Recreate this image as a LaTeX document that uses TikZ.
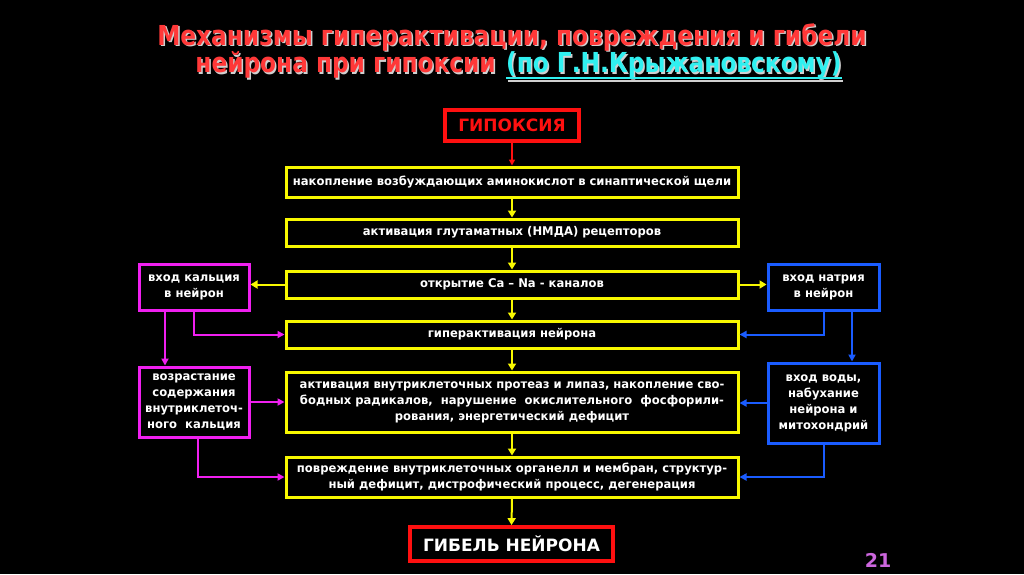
\documentclass[tikz,border=0pt]{standalone}
\usepackage{fontspec}
\setmainfont{DejaVu Sans}
\newfontfamily\titlefont{DejaVu Sans Condensed}[FakeStretch=0.94]
\newfontfamily\boxfont{DejaVu Sans}[FakeStretch=0.965]
\usetikzlibrary{arrows.meta,calc}
\definecolor{ylw}{HTML}{F8F800}
\definecolor{mgn}{HTML}{F020F0}
\definecolor{blu}{HTML}{1A5CFF}
\definecolor{rd}{HTML}{FF1010}
\definecolor{ttlred}{HTML}{FF3838}
\definecolor{ttlcyan}{HTML}{30F0F0}
\definecolor{shd}{HTML}{D0D0D0}
\definecolor{pagenum}{HTML}{CC66DD}
\begin{document}
\begin{tikzpicture}[x=1pt,y=-1pt,
  boxtext/.style={text=white,align=center,inner sep=0pt,font=\boxfont\bfseries\fontsize{12}{16}\selectfont},
  ybox/.style={boxtext,draw=ylw,line width=3pt,minimum width=452pt},
  mbox/.style={boxtext,draw=mgn,line width=3pt,minimum width=110pt},
  bbox/.style={boxtext,draw=blu,line width=3pt,minimum width=111pt},
  rbox/.style={draw=rd,line width=3.8pt,inner sep=0pt,font=\bfseries\fontsize{17}{20}\selectfont},
  yarr/.style={draw=ylw,line width=2pt,-{Triangle[length=7pt,width=8pt]}},
  marr/.style={draw=mgn,line width=2pt,-{Triangle[length=7pt,width=7pt]}},
  barr/.style={draw=blu,line width=2pt,-{Triangle[length=7pt,width=7pt]}},
  rarr/.style={draw=rd,line width=1.6pt,-{Triangle[length=6pt,width=6pt]}},
  ttl/.style={inner sep=0pt,font=\titlefont\bfseries\fontsize{27.5}{30}\selectfont}
]
\fill[black] (0,0) rectangle (1024,574);
\useasboundingbox (0,0) rectangle (1024,574);

% title with shadow
\node[ttl,text=shd,anchor=base] (t1s) at (513.5,46.5) {Механизмы гиперактивации, повреждения и гибели};
\node[ttl,text=ttlred,anchor=base] (t1) at (512,45) {Механизмы гиперактивации, повреждения и гибели};
\node[ttl,text=shd,anchor=base east] (t2as) at (497.5,74) {нейрона при гипоксии};
\node[ttl,text=ttlred,anchor=base east] (t2a) at (496,72.5) {нейрона при гипоксии};
\node[ttl,text=shd,anchor=base west] (t2bs) at (507.5,74) {(по Г.Н.Крыжановскому)};
\node[ttl,text=ttlcyan,anchor=base west] (t2b) at (506,72.5) {(по Г.Н.Крыжановскому)};
\draw[shd,line width=2pt] ([yshift=-7pt]t2bs.base west) -- ([yshift=-7pt]t2bs.base east);
\draw[ttlcyan,line width=2pt] ([yshift=-5.5pt]t2b.base west) -- ([yshift=-5.5pt]t2b.base east);

% central column
\node[rbox,text=rd,minimum width=134pt,minimum height=31pt] (hyp) at (512,125.5) {ГИПОКСИЯ};
\node[ybox,minimum height=30pt] (b1) at (512,182) {накопление возбуждающих аминокислот в синаптической щели};
\node[ybox,minimum height=27pt] (b2) at (512,232.5) {активация глутаматных (НМДА) рецепторов};
\node[ybox,minimum height=27pt] (b3) at (512,284.5) {открытие Ca – Na - каналов};
\node[ybox,minimum height=27pt] (b4) at (512,334.5) {гиперактивация нейрона};
\node[ybox,minimum height=60pt] (b5) at (512,402) {активация внутриклеточных протеаз и липаз, накопление сво-\\бодных радикалов,\ \ нарушение\ \ окислительного\ \ фосфорили-\\рования, энергетический дефицит};
\node[ybox,minimum height=40pt] (b6) at (512,477) {повреждение внутриклеточных органелл и мембран, структур-\\ный дефицит, дистрофический процесс, дегенерация};
\node[rbox,text=white,minimum width=203pt,minimum height=34pt] (death) at (511.5,544) {ГИБЕЛЬ НЕЙРОНА};

% side boxes
\node[mbox,minimum height=46pt] (lk1) at (194,287) {вход кальция\\в нейрон};
\node[mbox,minimum height=70pt] (lk2) at (194,402) {возрастание\\содержания\\внутриклеточ-\\ного\ \ кальция};
\node[bbox,minimum height=46pt] (rk1) at (823.5,287) {вход натрия\\в нейрон};
\node[bbox,minimum height=80pt] (rk2) at (823.5,403) {вход воды,\\набухание\\нейрона и\\митохондрий};

% page number
\node[text=pagenum,font=\bfseries\fontsize{19}{20}\selectfont,inner sep=0pt] (pg) at (878,560) {21};

% central arrows
\draw[rarr] (hyp.south) -- (b1.north);
\draw[yarr] (b1.south) -- (b2.north);
\draw[yarr] (b2.south) -- (b3.north);
\draw[yarr] (b3.south) -- (b4.north);
\draw[yarr] (b4.south) -- (b5.north);
\draw[yarr] (b5.south) -- (b6.north);
\draw[yarr] (b6.south) -- (death.north);
\draw[yarr] (b3.west) -- (b3.west -| lk1.east);
\draw[yarr] (b3.east) -- (b3.east -| rk1.west);

% left arrows
\draw[marr] (lk1.south) |- (b4.west);
\draw[marr] ([xshift=-29pt]lk1.south) -- ([xshift=-29pt]lk2.north);
\draw[marr] (lk2.east) -- (lk2.east -| b5.west);
\draw[marr] ([xshift=4pt]lk2.south) |- (b6.west);

% right arrows
\draw[barr] (rk1.south) |- (b4.east);
\draw[barr] ([xshift=28.5pt]rk1.south) -- ([xshift=28.5pt]rk2.north);
\draw[barr] (rk2.west) -- (rk2.west -| b5.east);
\draw[barr] (rk2.south) |- (b6.east);
\end{tikzpicture}
\end{document}
